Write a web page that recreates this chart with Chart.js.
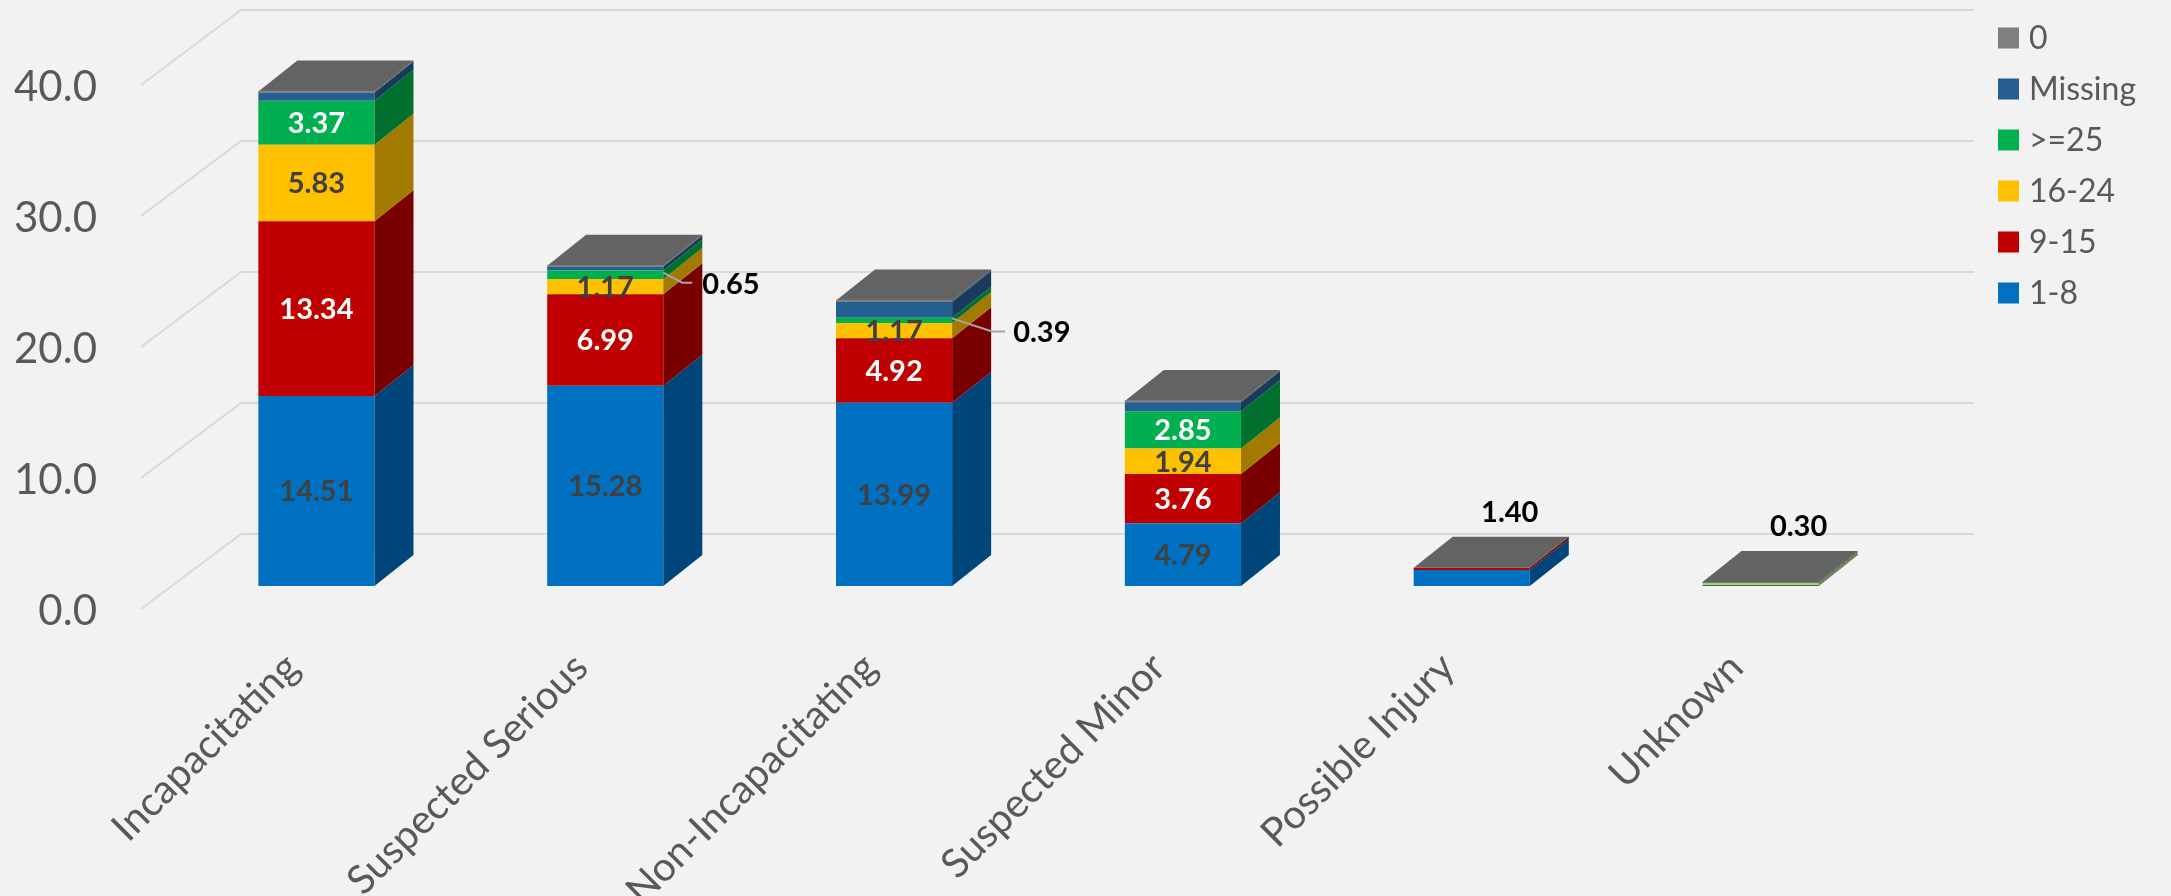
<!DOCTYPE html>
<html><head><meta charset="utf-8">
<script src="https://cdn.jsdelivr.net/npm/chart.js@4/dist/chart.umd.min.js"></script>
<style>html,body{margin:0;padding:0;background:#f2f2f2;overflow:hidden}#wrap{width:2171px;height:896px;position:relative}</style>
</head><body><div id="wrap"><canvas id="c" width="2171" height="896"></canvas></div>
<script>
// ---- data ----
const categories = ['Incapacitating','Suspected Serious','Non-Incapacitating','Suspected Minor','Possible Injury','Unknown'];
const seriesNames = ['1-8','9-15','16-24','>=25','Missing','0'];
const v1to8    = [14.51, 15.28, 13.99, 4.79, 1.22, 0.08];
const v9to15   = [13.34, 6.99, 4.92, 3.76, 0.18, 0.00];
const v16to24  = [5.83, 1.17, 1.17, 1.94, 0.00, 0.12];
const v25plus  = [3.37, 0.65, 0.39, 2.85, 0.00, 0.05];
const vMissing = [0.63, 0.30, 1.20, 0.69, 0.00, 0.05];
const vZero    = [0.06, 0.06, 0.12, 0.10, 0.00, 0.00];
const yTicks = [0, 10, 20, 30, 40];
const seriesValues = [v1to8, v9to15, v16to24, v25plus, vMissing, vZero];

// ---- styles ----
const frontColors = ['#0070C0','#C00000','#FFC000','#00B050','#255E91','#808080'];
const sideColors  = ['#00467A','#7A0000','#A37A00','#00702F','#173B5C','#4F4F4F'];
const legendColors = ['#0070C0','#C00000','#FFC000','#00B050','#255E91','#7F7F7F'];
const topColor = '#636363';
const labelColors = ['#404040','#ffffff','#404040','#ffffff', null, null];
const DEPTH = {dx:39, dy:-31};
const WALL_FRONT = {dx:-31, dy:23}, WALL_BACK = {dx:69, dy:-52};
const leaderStyle = {1:{kx:19,ky:8,ex:29,tx:39,ty:10}, 2:{kx:40,ky:11,ex:53,tx:61,ty:12}};
const FONT = 'Lato, "Open Sans", sans-serif';

const plugin3d = {
  id:'plugin3d',
  beforeDraw(chart){
    const ctx = chart.ctx;
    ctx.save(); ctx.fillStyle='#F2F2F2'; ctx.fillRect(0,0,chart.width,chart.height); ctx.restore();
  },
  beforeDatasetsDraw(chart){
    const ctx = chart.ctx, ys = chart.scales.y, ca = chart.chartArea;
    ctx.save();
    ctx.strokeStyle = '#D9D9D9'; ctx.lineWidth = 2;
    yTicks.forEach(v=>{
      const py = ys.getPixelForValue(v);
      ctx.beginPath();
      ctx.moveTo(ca.left+WALL_FRONT.dx, py+WALL_FRONT.dy);
      ctx.lineTo(ca.left+WALL_BACK.dx, py+WALL_BACK.dy);
      ctx.lineTo(ca.right+WALL_BACK.dx, py+WALL_BACK.dy);
      ctx.stroke();
    });
    // y tick labels
    ctx.fillStyle = '#595959'; ctx.font = '42px '+FONT; ctx.textAlign='right'; ctx.textBaseline='middle';
    yTicks.forEach(v=>{
      const py = ys.getPixelForValue(v);
      ctx.fillText(v.toFixed(1), 97, py+WALL_FRONT.dy+2);
    });
    ctx.restore();
  },
  afterDatasetsDraw(chart){
    const ctx = chart.ctx, ys = chart.scales.y, xs = chart.scales.x;
    const n = categories.length;
    ctx.save();
    // side faces
    chart.data.datasets.forEach((ds,di)=>{
      const meta = chart.getDatasetMeta(di);
      meta.data.forEach((bar,j)=>{
        const p = bar.getProps(['x','y','base','width'], true);
        if (Math.abs(p.base - p.y) < 0.01) return;
        const xr = p.x + p.width/2;
        ctx.fillStyle = sideColors[di];
        ctx.beginPath();
        ctx.moveTo(xr, p.y); ctx.lineTo(xr+DEPTH.dx, p.y+DEPTH.dy);
        ctx.lineTo(xr+DEPTH.dx, p.base+DEPTH.dy); ctx.lineTo(xr, p.base);
        ctx.closePath(); ctx.fill();
      });
    });
    // top faces
    const lastMeta = chart.getDatasetMeta(chart.data.datasets.length-1);
    const totals = [];
    for (let j=0;j<n;j++){
      let t = 0; seriesValues.forEach(s=>t+=s[j]); totals.push(t);
      const p = lastMeta.data[j].getProps(['x','width'], true);
      const yT = ys.getPixelForValue(t);
      const xl = p.x - p.width/2, xr = p.x + p.width/2;
      ctx.fillStyle = topColor;
      ctx.beginPath();
      ctx.moveTo(xl, yT); ctx.lineTo(xl+DEPTH.dx, yT+DEPTH.dy);
      ctx.lineTo(xr+DEPTH.dx, yT+DEPTH.dy); ctx.lineTo(xr, yT);
      ctx.closePath(); ctx.fill();
      if (vZero[j] > 0){
        ctx.strokeStyle = '#7F7F7F'; ctx.lineWidth = 1.5;
        ctx.beginPath(); ctx.moveTo(xl, yT); ctx.lineTo(xr, yT); ctx.stroke();
      }
    }
    // data labels
    ctx.font = 'bold 29px '+FONT; ctx.textBaseline='middle';
    for (let di=0; di<4; di++){
      const meta = chart.getDatasetMeta(di);
      meta.data.forEach((bar,j)=>{
        if (totals[j] < 2) return;
        const v = seriesValues[di][j];
        const p = bar.getProps(['x','y','base','width'], true);
        const mid = (p.y+p.base)/2;
        if (v >= 1){
          ctx.fillStyle = labelColors[di]; ctx.textAlign='center';
          ctx.fillText(v.toFixed(2), p.x, mid+1);
        } else if (v > 0 && leaderStyle[j]){
          const L = leaderStyle[j], xr = p.x + p.width/2;
          ctx.strokeStyle = '#A6A6A6'; ctx.lineWidth = 2;
          ctx.beginPath(); ctx.moveTo(xr, mid-2); ctx.lineTo(xr+L.kx, mid+L.ky); ctx.lineTo(xr+L.ex, mid+L.ky); ctx.stroke();
          ctx.fillStyle = '#000000'; ctx.textAlign='left';
          ctx.fillText(v.toFixed(2), xr+L.tx, mid+L.ty);
        }
      });
    }
    // total labels for small bars
    for (let j=0;j<n;j++){
      if (totals[j] < 2){
        const p = lastMeta.data[j].getProps(['x'], true);
        const yT = ys.getPixelForValue(totals[j]);
        ctx.fillStyle='#000000'; ctx.textAlign='center';
        ctx.fillText(totals[j].toFixed(2), p.x+38, yT-55);
      }
    }
    // category labels
    ctx.font = '40px '+FONT; ctx.fillStyle='#595959'; ctx.textAlign='right'; ctx.textBaseline='alphabetic';
    categories.forEach((c,j)=>{
      const x = xs.getPixelForValue(j);
      ctx.save(); ctx.translate(x-15, 670); ctx.rotate(-Math.PI/4); ctx.fillText(c,0,0); ctx.restore();
    });
    // legend (reversed order)
    ctx.font = '32px '+FONT; ctx.textAlign='left'; ctx.textBaseline='middle';
    const order = seriesNames.map((s,i)=>i).reverse();
    order.forEach((i,k)=>{
      const cy = 38 + k*51;
      ctx.fillStyle = legendColors[i]; ctx.fillRect(1998, cy-10.5, 21, 21);
      ctx.fillStyle = '#595959'; ctx.fillText(seriesNames[i], 2029, cy+1);
    });
    ctx.restore();
  }
};

function build(){
  const ctx = document.getElementById('c').getContext('2d');
  new Chart(ctx, {
    type:'bar',
    data:{ labels:categories,
      datasets: seriesNames.map((name,i)=>({label:name, data:seriesValues[i], backgroundColor:frontColors[i],
        borderWidth:0, barPercentage:0.402, categoryPercentage:1})) },
    options:{ responsive:false, animation:false, devicePixelRatio:1,
      layout:{padding:{left:172, right:266, top:62, bottom:310}},
      plugins:{legend:{display:false}, tooltip:{enabled:false}},
      scales:{ x:{stacked:true, display:false}, y:{stacked:true, display:false, min:0, max:40} } },
    plugins:[plugin3d]
  });
}
if (document.fonts && document.fonts.load){
  Promise.all([document.fonts.load('42px Lato'), document.fonts.load('bold 29px Lato')]).then(build, build);
} else build();
</script></body></html>
